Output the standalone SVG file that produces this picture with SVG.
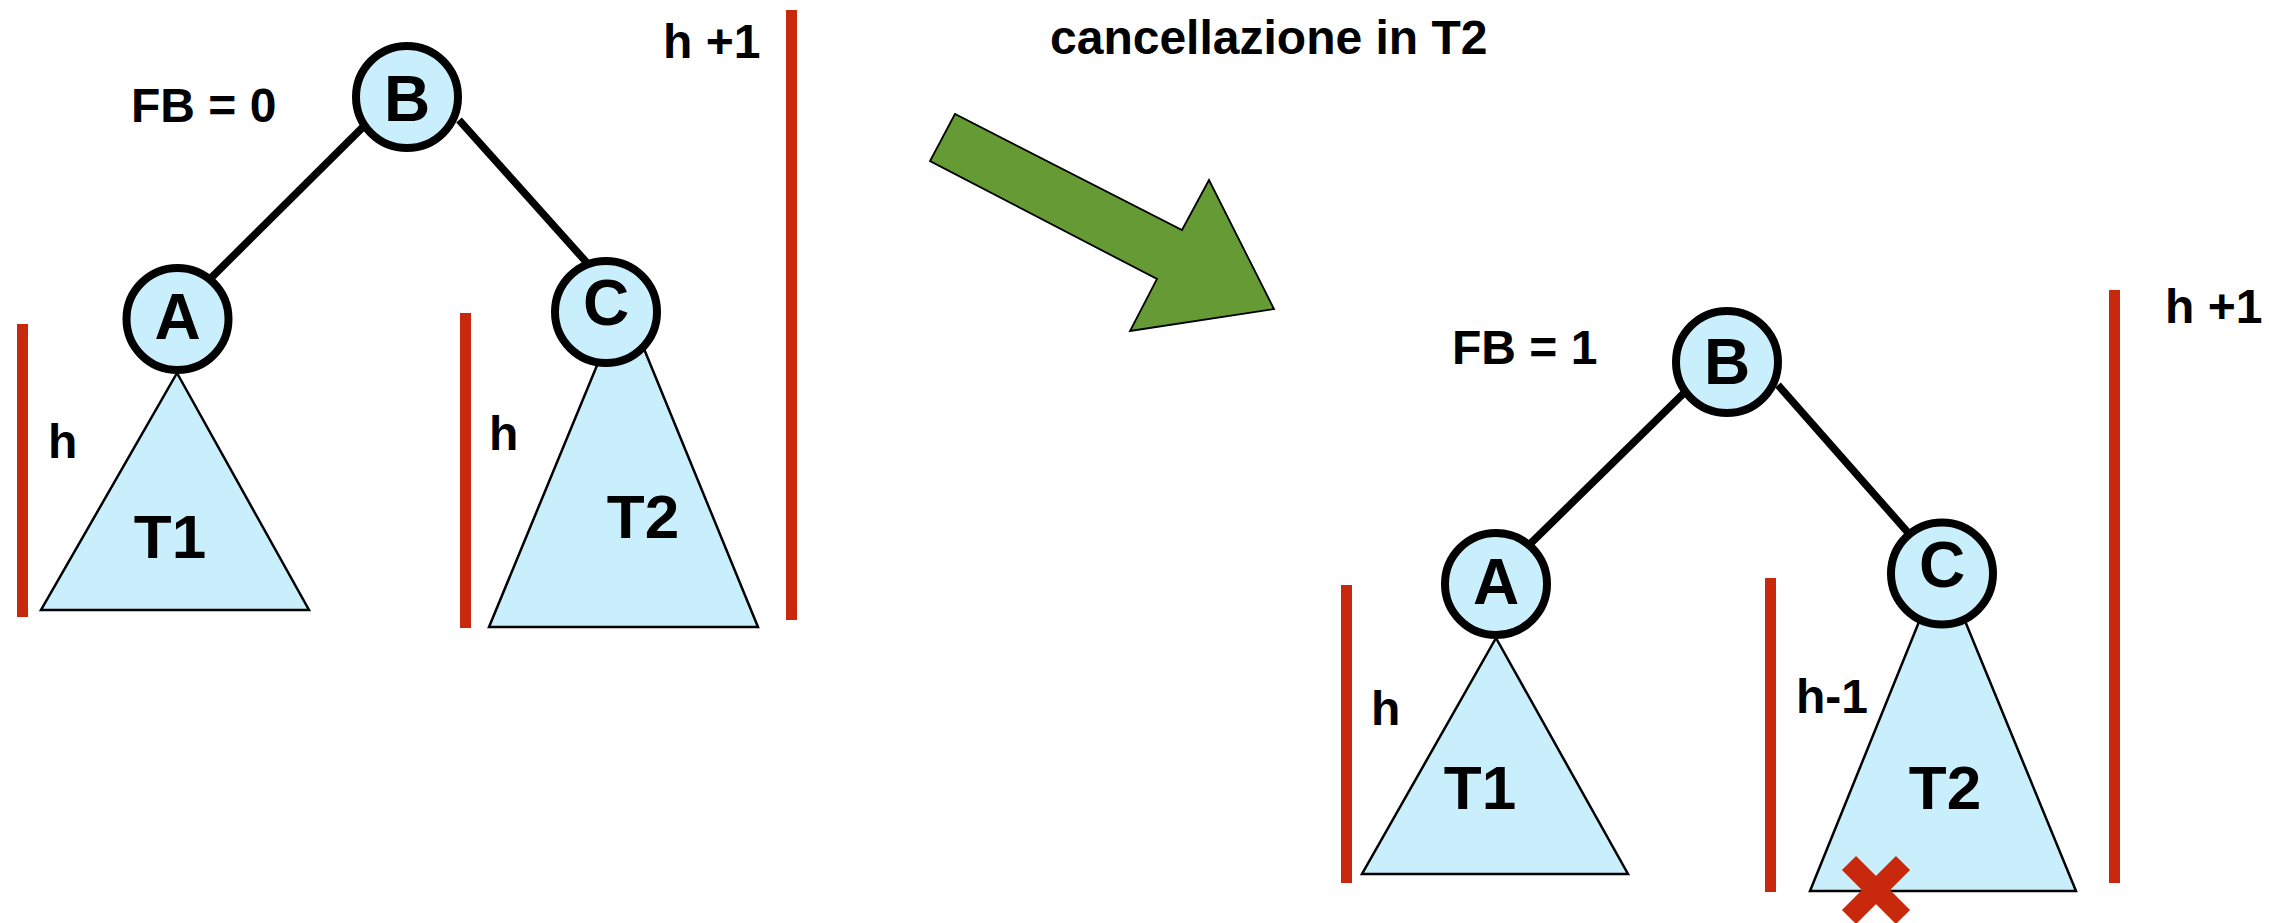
<svg xmlns="http://www.w3.org/2000/svg" width="2269" height="923" viewBox="0 0 2269 923">
  <style>
    .lbl { font-family: "Liberation Sans", Arial, sans-serif; font-weight: bold; font-size: 48px; fill: #000; }
    .node-letter { font-family: "Liberation Sans", Arial, sans-serif; font-weight: bold; font-size: 64px; fill: #000; text-anchor: middle; }
    .tree-letter { font-family: "Liberation Sans", Arial, sans-serif; font-weight: bold; font-size: 62px; fill: #000; text-anchor: middle; }
    .node { fill: #c9eefc; stroke: #000; stroke-width: 8; }
    .subtree { fill: #c9eefc; stroke: #000; stroke-width: 2.5; stroke-linejoin: miter; }
    .edge { stroke: #000; stroke-width: 7.5; fill: none; }
    .bar { stroke: #c8280c; stroke-width: 11; }
    .cross { stroke: #c8280c; stroke-width: 20; }
  </style>
  <rect width="2269" height="923" fill="#fff"/>

  <!-- connectors -->
  <g id="connectors">
    <line class="edge" x1="365" y1="125" x2="209" y2="280"/>
    <line class="edge" x1="459" y1="120" x2="588" y2="264"/>
    <line class="edge" x1="1685" y1="392" x2="1529" y2="545"/>
    <line class="edge" x1="1778" y1="385" x2="1911" y2="536"/>
  </g>

  <!-- left tree -->
  <g id="left-tree">
    <g id="L-T1">
      <polygon class="subtree" points="177,373 309,610 41,610"/>
      <text class="tree-letter" x="170" y="558">T1</text>
    </g>
    <g id="L-T2">
      <polygon class="subtree" points="624,300 758,627 489,627"/>
      <text class="tree-letter" x="643" y="538">T2</text>
    </g>
    <g id="L-B">
      <circle class="node" cx="407" cy="97" r="51"/>
      <text class="node-letter" x="407" y="121">B</text>
    </g>
    <g id="L-A">
      <circle class="node" cx="177.5" cy="319" r="51"/>
      <text class="node-letter" x="177.5" y="339">A</text>
    </g>
    <g id="L-C">
      <circle class="node" cx="606" cy="312" r="51"/>
      <text class="node-letter" x="606" y="325">C</text>
    </g>
    <g id="L-labels">
      <text class="lbl" x="131" y="122">FB = 0</text>
      <text class="lbl" x="663" y="58">h +1</text>
      <text class="lbl" x="48" y="458">h</text>
      <text class="lbl" x="489" y="450">h</text>
    </g>
    <g id="L-bars">
      <line class="bar" x1="22.5" y1="324" x2="22.5" y2="617"/>
      <line class="bar" x1="465.5" y1="313" x2="465.5" y2="628"/>
      <line class="bar" x1="791.5" y1="10" x2="791.5" y2="620"/>
    </g>
  </g>

  <!-- transition arrow -->
  <g id="arrow">
    <polygon points="955,114 930,161 1157,279 1130,331 1274,309 1209,180 1182,230" fill="#669a34" stroke="#000" stroke-width="1.8" stroke-linejoin="miter"/>
    <text class="lbl" x="1050" y="54">cancellazione in T2</text>
  </g>

  <!-- right tree -->
  <g id="right-tree">
    <g id="R-T1">
      <polygon class="subtree" points="1496,638 1628,874 1362,874"/>
      <text class="tree-letter" x="1480" y="809">T1</text>
    </g>
    <g id="R-T2">
      <polygon class="subtree" points="1942,565 2076,891 1810,891"/>
      <text class="tree-letter" x="1945" y="809">T2</text>
    </g>
    <g id="R-B">
      <circle class="node" cx="1727" cy="362" r="51"/>
      <text class="node-letter" x="1727" y="384">B</text>
    </g>
    <g id="R-A">
      <circle class="node" cx="1496" cy="584" r="51"/>
      <text class="node-letter" x="1496" y="604">A</text>
    </g>
    <g id="R-C">
      <circle class="node" cx="1942" cy="573.5" r="51"/>
      <text class="node-letter" x="1942" y="587">C</text>
    </g>
    <g id="R-labels">
      <text class="lbl" x="1452" y="364">FB = 1</text>
      <text class="lbl" x="2165" y="323">h +1</text>
      <text class="lbl" x="1371" y="725">h</text>
      <text class="lbl" x="1796" y="713">h-1</text>
    </g>
    <g id="R-bars">
      <line class="bar" x1="1346.5" y1="585" x2="1346.5" y2="883"/>
      <line class="bar" x1="1770.5" y1="578" x2="1770.5" y2="892"/>
      <line class="bar" x1="2114.5" y1="290" x2="2114.5" y2="883"/>
    </g>
    <g id="R-cross">
      <line class="cross" x1="1849" y1="863" x2="1903" y2="917"/>
      <line class="cross" x1="1903" y1="863" x2="1849" y2="917"/>
    </g>
  </g>
</svg>
